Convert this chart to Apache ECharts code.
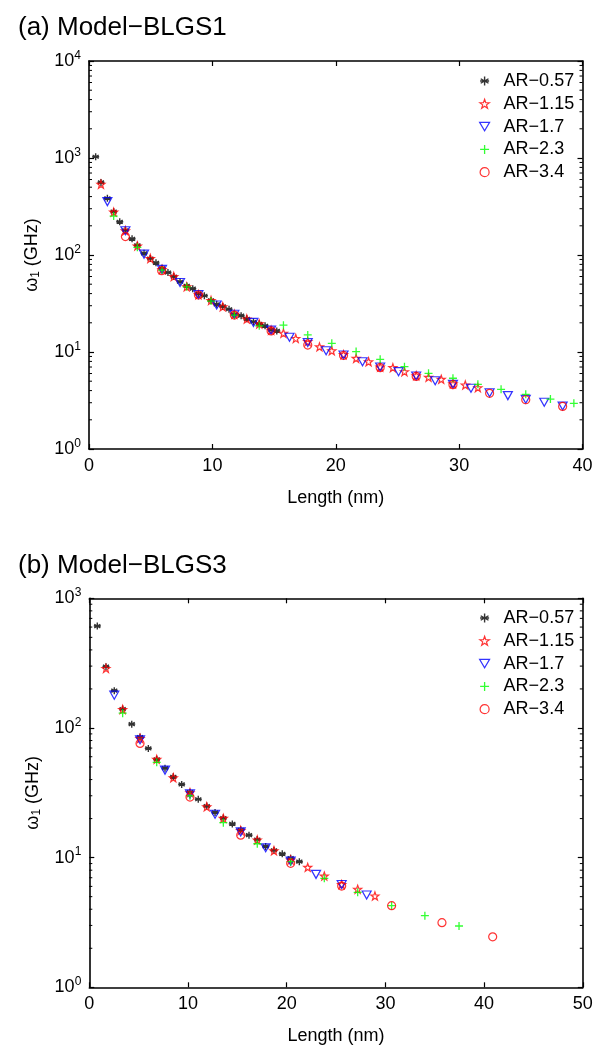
<!DOCTYPE html>
<html>
<head>
<meta charset="utf-8">
<script src="https://cdn.jsdelivr.net/npm/echarts@6/dist/echarts.min.js"></script>
<style>
html,body{margin:0;padding:0;background:#fff;}
#chart{width:603px;height:1050px;}
</style>
</head>
<body>
<div id="chart"></div>
<script>
// ---------------- DATA ----------------
const seriesNames = ['AR\u22120.57', 'AR\u22121.15', 'AR\u22121.7', 'AR\u22122.3', 'AR\u22123.4'];
const panelTitles = ['(a) Model\u2212BLGS1', '(b) Model\u2212BLGS3'];
const xMaxA = 40, xMaxB = 50;          // x tick labels 0,10,...,max
const yMaxA = 10000, yMaxB = 1000;     // y tick labels 10^0 ... 10^n

// Panel (a) Model-BLGS1 : length (nm) and omega_1 (GHz)
const a_len_057 = [0.54,0.97,1.49,2.0,2.49,2.95,3.49,3.92,4.46,4.97,5.43,5.92,6.4,6.87,7.38,7.92,8.41,8.87,9.35,9.89,10.35,10.84,11.35,11.78,12.33,12.79,13.33,13.8,14.27,14.76,15.22];
const a_w_057   = [1030,560,384,280,220,180,147,126,104,92,83,73,66,60,53,48,45,40,38,34,31,29.5,27.6,24.5,23.7,22,20.5,19.5,18.6,17,16.5];
const a_len_115 = [0.97,2.0,2.95,3.92,4.97,5.92,6.87,7.92,8.87,9.89,10.84,11.78,12.79,13.8,14.76,15.76,16.76,17.73,18.68,19.68,20.63,21.65,22.66,23.6,24.63,25.57,26.52,27.52,28.55,29.5,30.5,31.52];
const a_w_115   = [536,277,178,124,92,71,60,47,39,34,29.3,24.5,21.9,19.5,16.8,15.6,13.8,12.8,11.3,10.3,9.4,8.6,7.94,7.0,6.9,6.27,5.7,5.48,5.23,4.7,4.57,4.29];
const a_len_17  = [1.49,2.95,4.46,5.92,7.38,8.87,10.35,11.78,13.33,14.76,16.25,17.73,19.22,20.63,22.17,23.6,25.09,26.52,28.06,29.5,30.96,32.47,33.95,35.4,36.9,38.39];
const a_w_17    = [355,178,102,71,52,39,30.5,24.5,20.2,16.8,14.2,12.5,10.3,9.3,7.94,7.0,6.27,5.66,5.06,4.64,4.23,3.8,3.55,3.25,3.03,2.77];
const a_len_23  = [2.0,3.92,5.92,7.92,9.89,11.78,13.8,15.76,17.73,19.68,21.65,23.6,25.57,27.52,29.5,31.52,33.4,35.4,37.4,39.3];
const a_w_23    = [252,120,70,47,33.5,24,18.6,18.9,15.0,12.3,10.1,8.4,7.06,6.03,5.36,4.64,4.12,3.66,3.27,2.96];
const a_len_34  = [2.95,5.89,8.87,11.78,14.76,17.73,20.63,23.6,26.52,29.5,32.47,35.4,38.39];
const a_w_34    = [155,69,38.7,24,16.5,11.8,9.2,6.9,5.6,4.6,3.75,3.22,2.75];

// Panel (b) Model-BLGS3
const b_len_057 = [0.81,1.69,2.53,3.38,4.3,5.14,5.98,6.83,7.67,8.51,9.36,10.2,11.04,11.9,12.74,13.58,14.49,15.34,16.18,17.02,17.87,18.71,19.55,20.4,21.28];
const b_w_057   = [611,297,194,140,107,85,69.6,57.3,49,42,36.7,32,28.2,25,22.3,20.2,18.2,16.4,14.9,13.8,12.2,11.4,10.7,9.9,9.3];
const b_len_115 = [1.69,3.38,5.14,6.83,8.51,10.2,11.9,13.58,15.34,17.02,18.71,20.4,22.13,23.81,25.57,27.19,28.94];
const b_w_115   = [288,139,83,57.3,41.3,31.7,24.7,20.1,16.2,13.7,11.3,9.6,8.42,7.21,6.2,5.7,5.06];
const b_len_17  = [2.53,5.14,7.67,10.2,12.74,15.34,17.87,20.4,22.97,25.57,28.1];
const b_w_17    = [179,81,47.3,31,21.6,15.8,11.9,9.4,7.43,6.2,5.15];
const b_len_23  = [3.38,6.83,10.2,13.58,17.02,20.4,23.81,27.19,30.63,34.0,37.46];
const b_w_23    = [130,54.3,30,18.6,12.8,9.3,6.92,5.4,4.26,3.57,2.97];
const b_len_34  = [5.14,10.2,15.34,20.4,25.57,30.63,35.73,40.87];
const b_w_34    = [76,29.3,14.9,9.04,6.04,4.26,3.15,2.45];

// ---------------- STYLE ----------------
const FONT = '"Liberation Sans", Arial, Helvetica, sans-serif';
const zip = (xs, ys) => xs.map((x, i) => [x, ys[i]]);
const STAR = 'path://M0,-10L2.35,-3.24L9.51,-3.09L3.8,1.24L5.88,8.09L0,4L-5.88,8.09L-3.8,1.24L-9.51,-3.09L-2.35,-3.24Z';
const ASTER = 'path://M0,-10L0,10M-8.66,-5L8.66,5M-8.66,5L8.66,-5M-10,0L10,0';
const PLUS = 'path://M0,-10L0,10M-10,0L10,0';
const TRI_DOWN = 'path://M-10,-8L10,-8L0,9Z';
const colors = ['#000000', '#ff0000', '#0000ff', '#00ff00', '#ff0000'];
const symbols = [ASTER, STAR, TRI_DOWN, PLUS, 'circle'];
const sizes = [[7, 7], [8, 8], [9, 8], [8, 8], [8, 8]];
const widths = [1.4, 1.2, 1.2, 1.3, 1.2];
function itemStyle(i) { return {color: 'transparent', borderColor: colors[i], borderWidth: widths[i]}; }

const panelA = [zip(a_len_057,a_w_057), zip(a_len_115,a_w_115), zip(a_len_17,a_w_17), zip(a_len_23,a_w_23), zip(a_len_34,a_w_34)];
const panelB = [zip(b_len_057,b_w_057), zip(b_len_115,b_w_115), zip(b_len_17,b_w_17), zip(b_len_23,b_w_23), zip(b_len_34,b_w_34)];

function yLabel(v) {
  const e = Math.round(Math.log10(v));
  return '{b|10}{s|' + e + '}';
}
const lineStyle = {color: '#000', width: 1.6};
const tickStyle = {color: '#000', width: 1.2};
function xAxes(gi, max) {
  return [
    {gridIndex: gi, type: 'value', min: 0, max: max, interval: 10, position: 'bottom',
     axisLine: {show: true, onZero: false, lineStyle}, splitLine: {show: false},
     axisTick: {inside: true, length: 5, lineStyle: tickStyle},
     axisLabel: {color: '#000', fontFamily: FONT, fontSize: 18, margin: 8},
     name: 'Length (nm)', nameLocation: 'middle', nameGap: 40,
     nameTextStyle: {color: '#000', fontFamily: FONT, fontSize: 18}},
    {gridIndex: gi, type: 'value', min: 0, max: max, interval: 10, position: 'top',
     axisLine: {show: true, onZero: false, lineStyle}, splitLine: {show: false},
     axisTick: {inside: true, length: 5, lineStyle: tickStyle},
     axisLabel: {show: false}}
  ];
}
function yAxes(gi, max) {
  const common = {gridIndex: gi, type: 'log', logBase: 10, min: 1, max: max,
    axisLine: {show: true, onZero: false, lineStyle}, splitLine: {show: false},
    axisTick: {inside: true, length: 5, lineStyle: tickStyle},
    minorTick: {show: false}, minorSplitLine: {show: false}};
  return [
    Object.assign({}, common, {position: 'left',
      axisLabel: {color: '#000', fontFamily: FONT, margin: 8, formatter: yLabel,
        rich: {b: {fontSize: 18, fontFamily: FONT, color: '#000'},
               s: {fontSize: 12, fontFamily: FONT, color: '#000', padding: [0, 0, 11, 0]}}},
      name: '{w|\u03c9}{sub|1}{w| (GHz)}', nameLocation: 'middle', nameGap: 47,
      nameTextStyle: {color: '#000', fontFamily: FONT, fontSize: 18,
        rich: {w: {fontSize: 18, fontFamily: FONT, color: '#000'},
               sub: {fontSize: 12, fontFamily: FONT, color: '#000', padding: [7, 0, 0, 0]}}}}),
    Object.assign({}, common, {position: 'right', axisLabel: {show: false}})
  ];
}

// minor log ticks (2..9 x 10^k) drawn through the axis scale, on left and right edges
function minorTickValues(max) {
  const out = [];
  for (let p = 1; p < max; p *= 10) for (let m = 2; m <= 9; m++) out.push([m * p]);
  return out;
}
function minorTickSeries(gi, xMax, yMax) {
  return {
    type: 'custom', xAxisIndex: gi * 2, yAxisIndex: gi * 2, silent: true, clip: false,
    animation: false, z: 1, data: minorTickValues(yMax),
    renderItem: function (params, api) {
      const v = api.value(0);
      const pL = api.coord([0, v]);
      const pR = api.coord([xMax, v]);
      const st = {stroke: '#000', lineWidth: 1};
      return {type: 'group', children: [
        {type: 'line', shape: {x1: pL[0], y1: pL[1], x2: pL[0] + 3, y2: pL[1]}, style: st},
        {type: 'line', shape: {x1: pR[0] - 3, y1: pR[1], x2: pR[0], y2: pR[1]}, style: st}
      ]};
    }
  };
}

const series = [minorTickSeries(0, xMaxA, yMaxA), minorTickSeries(1, xMaxB, yMaxB)];
[panelA, panelB].forEach((panel, gi) => {
  panel.forEach((d, si) => {
    series.push({
      type: 'scatter', name: seriesNames[si], data: d,
      xAxisIndex: gi * 2, yAxisIndex: gi * 2,
      symbol: symbols[si], symbolSize: sizes[si], itemStyle: itemStyle(si),
      animation: false, emphasis: {disabled: true}, z: 2 + si
    });
  });
});

function legend(top) {
  return {orient: 'vertical', left: 474, top: top, itemWidth: 10, itemHeight: 9, itemGap: 4.8,
    selectedMode: false,
    data: seriesNames.map((n, i) => ({name: n, icon: symbols[i], itemStyle: itemStyle(i)})),
    textStyle: {color: '#000', fontFamily: FONT, fontSize: 18, padding: [0, 0, 0, 9], lineHeight: 18}};
}

const option = {
  backgroundColor: '#fff',
  animation: false,
  title: [
    {text: panelTitles[0], left: 13, top: 10, textStyle: {color: '#000', fontFamily: FONT, fontSize: 26, fontWeight: 'normal'}},
    {text: panelTitles[1], left: 13, top: 547.5, textStyle: {color: '#000', fontFamily: FONT, fontSize: 26, fontWeight: 'normal'}}
  ],
  legend: [legend(67), legend(604)],
  grid: [
    {left: 89, top: 61, width: 493.5, height: 388},
    {left: 89.3, top: 598.3, width: 493.5, height: 389}
  ],
  xAxis: xAxes(0, xMaxA).concat(xAxes(1, xMaxB)),
  yAxis: yAxes(0, yMaxA).concat(yAxes(1, yMaxB)),
  series: series
};
const chart = echarts.init(document.getElementById('chart'), null, {renderer: 'canvas'});
chart.setOption(option);
</script>
</body>
</html>
